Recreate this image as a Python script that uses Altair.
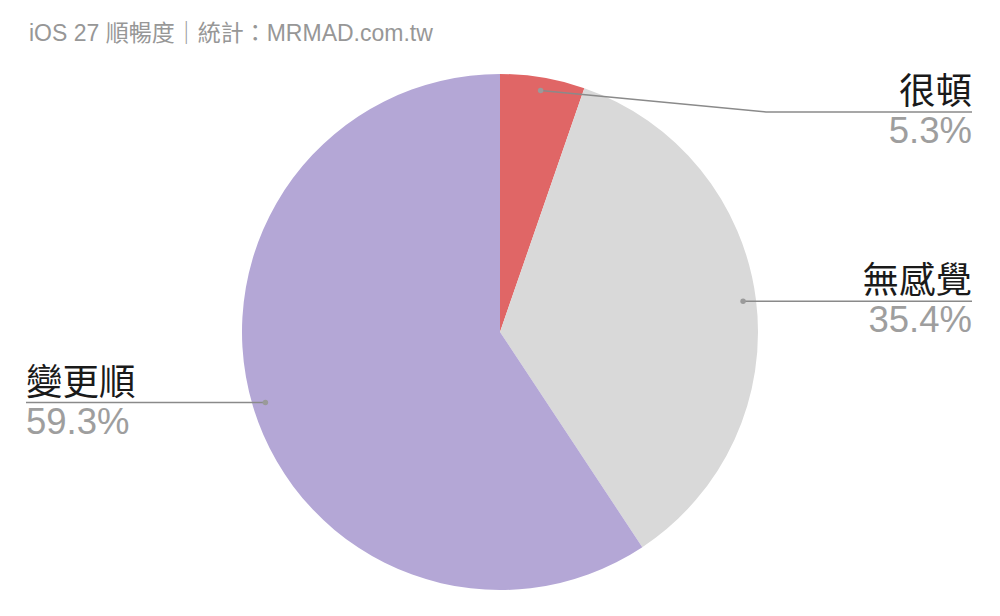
import math
import altair as alt
import pandas as pd

# ---- data ----
categories = ["很頓", "無感覺", "變更順"]
shares = [5.3, 35.4, 59.3]
colors = ["#e06666", "#d9d9d9", "#b4a7d6"]
title_text = "iOS 27 順暢度｜統計：MRMAD.com.tw"

# ---- layout (pixels in plot space) ----
W, H = 984, 600
CX, CY, R = 492, 324, 258
R_DOT = 245
RIGHT_X, LEFT_X = 964, 18
layout = {
    "很頓": dict(side="right", line_y=104, elbow_x=758),
    "無感覺": dict(side="right"),
    "變更順": dict(side="left"),
}
FONT = "Liberation Sans, Arial, Noto Sans CJK TC"
LABEL_SIZE = 36.5

total = sum(shares)
cum = 0.0
pie_rows, line_rows, dot_rows, label_rows = [], [], [], []
for i, (c, s) in enumerate(zip(categories, shares)):
    mid = (cum + s / 2) / total * 2 * math.pi
    cum += s
    px = CX + R_DOT * math.sin(mid)
    py = CY - R_DOT * math.cos(mid)
    pie_rows.append(dict(cat=c, share=s, idx=i))
    dot_rows.append(dict(cat=c, x=px, y=py))
    lay = layout[c]
    ly = lay.get("line_y", py)
    pts = [(px, py)]
    if "elbow_x" in lay:
        pts.append((lay["elbow_x"], ly))
    end_x = RIGHT_X if lay["side"] == "right" else LEFT_X
    pts.append((end_x, ly))
    for k, (a, b) in enumerate(pts):
        line_rows.append(dict(cat=c, x=a, y=b, k=k))
    label_rows.append(dict(cat=c, side=lay["side"], x=end_x, y=ly - 8,
                           kind="name", text=c))
    label_rows.append(dict(cat=c, side=lay["side"], x=end_x, y=ly + 31,
                           kind="pct", text=f"{s:.1f}%"))

pie_df = pd.DataFrame(pie_rows)
line_df = pd.DataFrame(line_rows)
dot_df = pd.DataFrame(dot_rows)
label_df = pd.DataFrame(label_rows)
title_df = pd.DataFrame([dict(x=21, y=33, text=title_text)])

xs = alt.Scale(domain=[0, W], nice=False, zero=False)
ys = alt.Scale(domain=[0, H], nice=False, zero=False, reverse=True)
X = lambda: alt.X("x:Q", scale=xs, axis=None)
Y = lambda: alt.Y("y:Q", scale=ys, axis=None)

pie = alt.Chart(pie_df).mark_arc(outerRadius=R).encode(
    theta=alt.Theta("share:Q", stack=True),
    color=alt.Color("cat:N", scale=alt.Scale(domain=categories, range=colors), legend=None),
    order=alt.Order("idx:Q"),
    x=alt.value(CX),
    y=alt.value(CY),
)

lines = alt.Chart(line_df).mark_line(color="#8a8a8a", strokeWidth=1.5).encode(
    x=X(), y=Y(), detail="cat:N", order="k:Q"
)
dots = alt.Chart(dot_df).mark_circle(color="#9a9a9a", size=30, opacity=1).encode(x=X(), y=Y())

def label_layer(side, kind, color):
    return alt.Chart(label_df).transform_filter(
        (alt.datum.side == side) & (alt.datum.kind == kind)
    ).mark_text(
        align="right" if side == "right" else "left",
        baseline="alphabetic", fontSize=LABEL_SIZE, font=FONT, color=color,
    ).encode(x=X(), y=Y(), text="text:N")

labels = [label_layer(s, k, c) for s in ("right", "left")
          for k, c in (("name", "#1a1a1a"), ("pct", "#9e9e9e"))]

title = alt.Chart(title_df).mark_text(
    align="left", baseline="alphabetic", fontSize=23, font=FONT, color="#979797"
).encode(x=X(), y=Y(), text="text:N")

chart = alt.layer(pie, lines, dots, *labels, title).properties(
    width=W, height=H, padding=0, background="white"
).configure_view(stroke=None)

chart.save("out.html", embed_options={"renderer": "svg", "actions": False})
